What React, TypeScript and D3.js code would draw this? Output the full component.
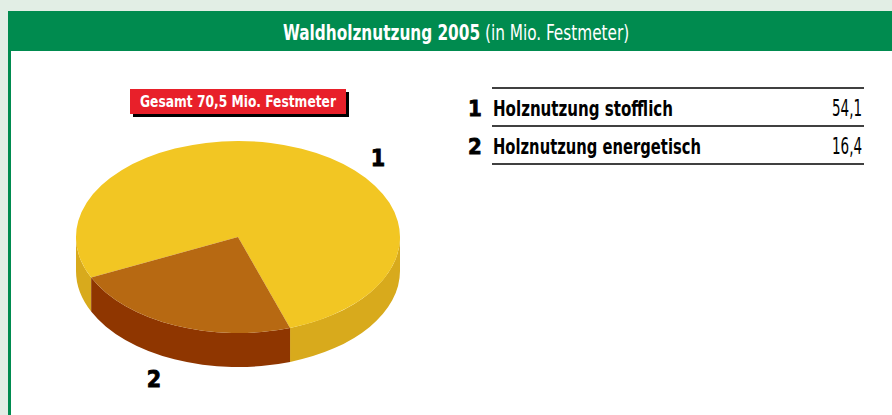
import React, { useLayoutEffect, useRef, useState } from "react";
import * as d3 from "d3";

const categories = ["Holznutzung stofflich", "Holznutzung energetisch"];
const values = [54.1, 16.4];
const valueLabels = ["54,1", "16,4"];
const numbers = ["1", "2"];
const title = "Waldholznutzung 2005";
const subtitle = "(in Mio. Festmeter)";
const totalLabel = "Gesamt 70,5 Mio. Festmeter";

const topColors = ["#f2c623", "#b76912"];
const sideColors = ["#d8aa1c", "#8f3600"];

const FONT = "'Liberation Sans Narrow', 'DejaVu Sans Condensed', 'Roboto', sans-serif";

export default function App() {
  const W = 892, H = 415;
  const cx = 238, cy = 237, rx = 162, ry = 96, depth = 34;

  const titleRef = useRef<SVGTextElement>(null);
  const [titleScale, setTitleScale] = useState(0.81);
  useLayoutEffect(() => {
    if (titleRef.current) {
      const len = titleRef.current.getComputedTextLength();
      if (len > 0) setTitleScale(346 / len);
    }
  }, []);

  const pie = d3.pie<number>().sort(null).value((d) => d)
    .startAngle((245 * Math.PI) / 180)
    .endAngle((245 * Math.PI) / 180 + 2 * Math.PI);
  const arcs = pie(values);

  const pt = (t: number, dy = 0) => [cx + rx * Math.cos(t), cy + ry * Math.sin(t) + dy];

  const topPath = (t1: number, t2: number) => {
    const [x1, y1] = pt(t1);
    const [x2, y2] = pt(t2);
    const large = t2 - t1 > Math.PI ? 1 : 0;
    return `M${cx},${cy}L${x1},${y1}A${rx},${ry} 0 ${large} 1 ${x2},${y2}Z`;
  };

  const wallPaths = (t1: number, t2: number) => {
    const res: string[] = [];
    for (let k = -1; k <= 2; k++) {
      const a = Math.max(t1, k * 2 * Math.PI);
      const b = Math.min(t2, k * 2 * Math.PI + Math.PI);
      if (b > a) {
        const [x1, y1] = pt(a);
        const [x2, y2] = pt(b);
        res.push(
          `M${x1},${y1}A${rx},${ry} 0 0 1 ${x2},${y2}L${x2},${y2 + depth}A${rx},${ry} 0 0 0 ${x1},${y1 + depth}Z`
        );
      }
    }
    return res;
  };

  const slices = arcs.map((a, i) => {
    const t1 = a.startAngle - Math.PI / 2;
    const t2 = a.endAngle - Math.PI / 2;
    return { i, t1, t2 };
  });

  const legendY = d3.scaleBand<number>().domain([0, 1]).range([88, 164]);
  const legendRules = [88, 126, 164];

  return (
    <svg width={W} height={H} style={{ position: "absolute", left: 0, top: 0, display: "block" }}>
      <rect x={0} y={0} width={W} height={H} fill="#e2eee5" />
      <rect x={8} y={11} width={W} height={H} fill="#008b4f" />
      <rect x={11} y={51} width={W} height={H} fill="#ffffff" />
      <g transform={`translate(283,40) scale(${titleScale},1)`}>
        <text ref={titleRef} x={0} y={0} fill="#fff" fontFamily={FONT} fontSize={21}>
          <tspan fontWeight="bold">{title}</tspan>
          <tspan> {subtitle}</tspan>
        </text>
      </g>

      {/* total label */}
      <rect x={133} y={92} width={216} height={25} fill="#000" />
      <rect x={130} y={89} width={216} height={25} fill="#e8202a" />
      <text x={238} y={107} textAnchor="middle" fill="#fff" fontFamily={FONT} fontWeight="bold" fontSize={15}
        textLength={196} lengthAdjust="spacingAndGlyphs">{totalLabel}</text>

      {/* pie walls */}
      {slices.map((s) =>
        wallPaths(s.t1, s.t2).map((d, j) => (
          <path key={`w${s.i}-${j}`} d={d} fill={sideColors[s.i]} />
        ))
      )}
      {slices.map((s) => (
        <path key={`t${s.i}`} d={topPath(s.t1, s.t2)} fill={topColors[s.i]} />
      ))}

      <text x={378} y={166} textAnchor="middle" fontFamily={FONT} fontWeight="900" fontSize={23} stroke="#000" strokeWidth={0.8}>1</text>
      <text x={154} y={387} textAnchor="middle" fontFamily={FONT} fontWeight="900" fontSize={23} stroke="#000" strokeWidth={0.8}>2</text>

      {/* legend */}
      {legendRules.map((y, i) => (
        <line key={`r${i}`} x1={492} x2={864} y1={y} y2={y} stroke="#000" strokeWidth={1.5} />
      ))}
      {categories.map((c, i) => {
        const y = (legendY(i) as number) + 28;
        return (
          <g key={c} fontFamily={FONT} fontWeight="bold" fontSize={22}>
            <text x={475} y={y} textAnchor="middle" stroke="#000" strokeWidth={0.8}>{numbers[i]}</text>
            <text x={493} y={y} textLength={i === 0 ? 180 : 208} lengthAdjust="spacingAndGlyphs">{c}</text>
            <text x={832} y={y} fontWeight="normal" fontSize={23} textLength={30} lengthAdjust="spacingAndGlyphs">{valueLabels[i]}</text>
          </g>
        );
      })}
    </svg>
  );
}
